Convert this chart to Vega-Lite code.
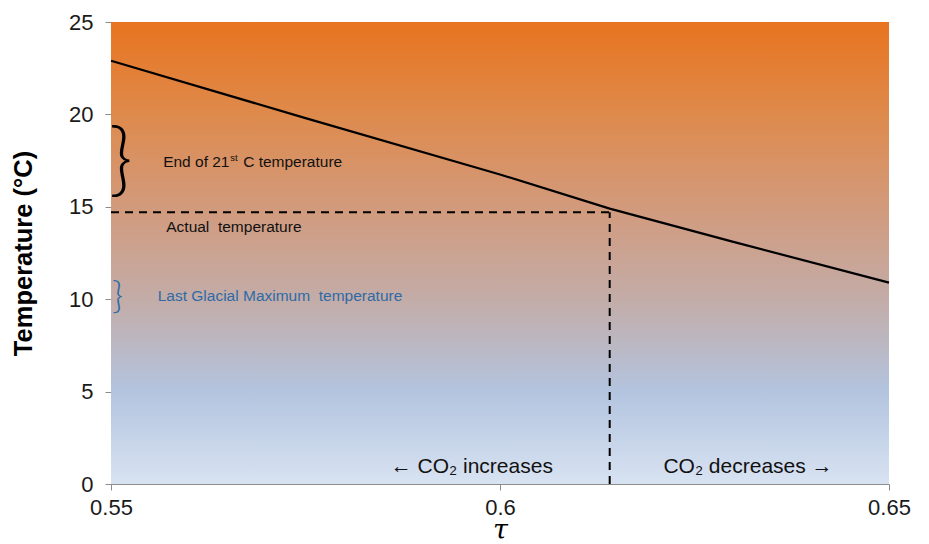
{
  "$schema": "https://vega.github.io/schema/vega-lite/v6.json",
  "width": 778,
  "height": 462,
  "autosize": {"type": "none"},
  "padding": {"left": 111, "top": 22, "right": 40, "bottom": 60},
  "background": "white",
  "config": {
    "view": {"stroke": null},
    "font": "Liberation Sans",
    "axis": {"grid": false, "domainColor": "#8c8c8c", "tickColor": "#8c8c8c", "tickSize": 6, "labelFont": "Liberation Sans", "labelFontSize": 22, "labelColor": "#1a1a1a"}
  },
  "datasets": {
    "bg": [{"t": 0.55, "t2": 0.65, "temp": 0, "temp2": 25}],
    "curve": [
      {"t": 0.55, "temp": 22.9},
      {"t": 0.575, "temp": 19.8},
      {"t": 0.6, "temp": 16.75},
      {"t": 0.6141, "temp": 14.9},
      {"t": 0.63, "temp": 13.1},
      {"t": 0.65, "temp": 10.9}
    ],
    "hdash": [{"t": 0.55, "t2": 0.6141, "temp": 14.7}],
    "vdash": [{"t": 0.6141, "temp": 0, "temp2": 14.7}]
  },
  "layer": [
    {
      "data": {"name": "bg"},
      "mark": {"type": "rect", "color": {"gradient": "linear", "x1": 0, "y1": 0, "x2": 0, "y2": 1, "stops": [
        {"offset": 0, "color": "#e8741f"},
        {"offset": 0.2, "color": "#de8a4c"},
        {"offset": 0.4, "color": "#d29a7c"},
        {"offset": 0.6, "color": "#c3aca8"},
        {"offset": 0.8, "color": "#b3c4df"},
        {"offset": 1, "color": "#d8e3f2"}
      ]}},
      "encoding": {
        "x": {"field": "t", "type": "quantitative", "scale": {"domain": [0.55, 0.65], "nice": false, "zero": false},
          "axis": {"values": [0.55, 0.6, 0.65], "format": "~g", "labelFlush": false, "labelPadding": 7, "title": "τ", "titleFont": "DejaVu Serif", "titleFontStyle": "italic", "titleFontWeight": "normal", "titleFontSize": 27, "titlePadding": -1}},
        "x2": {"field": "t2"},
        "y": {"field": "temp", "type": "quantitative", "scale": {"domain": [0, 25], "nice": false},
          "axis": {"values": [0, 5, 10, 15, 20, 25], "labelPadding": 12, "title": "Temperature (°C)", "titleFontSize": 25.5, "titleFontWeight": "bold", "titleColor": "#000", "titleX": -88, "titleY": 231, "titleAngle": -90, "titleBaseline": "middle"}},
        "y2": {"field": "temp2"}
      }
    },
    {
      "data": {"name": "curve"},
      "mark": {"type": "line", "color": "#000", "strokeWidth": 2.2},
      "encoding": {
        "x": {"field": "t", "type": "quantitative", "title": "τ"},
        "y": {"field": "temp", "type": "quantitative", "title": "Temperature (°C)"}
      }
    },
    {
      "data": {"name": "hdash"},
      "mark": {"type": "rule", "color": "#000", "strokeWidth": 2, "strokeDash": [8, 6]},
      "encoding": {
        "x": {"field": "t", "type": "quantitative", "title": "τ"},
        "x2": {"field": "t2"},
        "y": {"field": "temp", "type": "quantitative", "title": "Temperature (°C)"}
      }
    },
    {
      "data": {"name": "vdash"},
      "mark": {"type": "rule", "color": "#000", "strokeWidth": 2, "strokeDash": [8, 6]},
      "encoding": {
        "x": {"field": "t", "type": "quantitative", "title": "τ"},
        "y": {"field": "temp", "type": "quantitative", "title": "Temperature (°C)"},
        "y2": {"field": "temp2"}
      }
    },
    {
      "data": {"values": [{"t": 0.55, "temp": 17.42, "label": "}"}]},
      "mark": {"type": "text", "font": "Lato", "fontSize": 80, "fontWeight": 300, "align": "left", "baseline": "middle", "dx": -2, "color": "#000"},
      "encoding": {
        "x": {"field": "t", "type": "quantitative", "title": "τ"},
        "y": {"field": "temp", "type": "quantitative", "title": "Temperature (°C)"},
        "text": {"field": "label"}
      }
    },
    {
      "data": {"values": [{"t": 0.55, "temp": 10.1, "label": "}"}]},
      "mark": {"type": "text", "font": "Lato", "fontSize": 38, "fontWeight": 300, "align": "left", "baseline": "middle", "dx": 1, "color": "#2e6aa6"},
      "encoding": {
        "x": {"field": "t", "type": "quantitative", "title": "τ"},
        "y": {"field": "temp", "type": "quantitative", "title": "Temperature (°C)"},
        "text": {"field": "label"}
      }
    },
    {
      "data": {"values": [{"t": 0.5567, "temp": 17.4, "label": "End of 21"}, {"t": 0.5571, "temp": 13.9, "label": "Actual\u00a0 temperature"}]},
      "mark": {"type": "text", "fontSize": 15.5, "align": "left", "baseline": "middle", "color": "#111"},
      "encoding": {
        "x": {"field": "t", "type": "quantitative", "title": "τ"},
        "y": {"field": "temp", "type": "quantitative", "title": "Temperature (°C)"},
        "text": {"field": "label"}
      }
    },
    {
      "data": {"values": [{"t": 0.5567, "temp": 17.4, "label": "st"}]},
      "mark": {"type": "text", "fontSize": 9.5, "align": "left", "baseline": "middle", "dx": 67, "dy": -4, "color": "#111"},
      "encoding": {
        "x": {"field": "t", "type": "quantitative", "title": "τ"},
        "y": {"field": "temp", "type": "quantitative", "title": "Temperature (°C)"},
        "text": {"field": "label"}
      }
    },
    {
      "data": {"values": [{"t": 0.5567, "temp": 17.4, "label": "C temperature"}]},
      "mark": {"type": "text", "fontSize": 15.5, "align": "left", "baseline": "middle", "dx": 80, "color": "#111"},
      "encoding": {
        "x": {"field": "t", "type": "quantitative", "title": "τ"},
        "y": {"field": "temp", "type": "quantitative", "title": "Temperature (°C)"},
        "text": {"field": "label"}
      }
    },
    {
      "data": {"values": [{"t": 0.556, "temp": 10.15, "label": "Last Glacial Maximum\u00a0 temperature"}]},
      "mark": {"type": "text", "fontSize": 15.5, "align": "left", "baseline": "middle", "color": "#2e6aa6"},
      "encoding": {
        "x": {"field": "t", "type": "quantitative", "title": "τ"},
        "y": {"field": "temp", "type": "quantitative", "title": "Temperature (°C)"},
        "text": {"field": "label"}
      }
    },
    {
      "data": {"values": [{"t": 0.6068, "temp": 0.9, "label": "← CO₂ increases"}]},
      "mark": {"type": "text", "fontSize": 21, "align": "right", "baseline": "middle", "color": "#111"},
      "encoding": {
        "x": {"field": "t", "type": "quantitative", "title": "τ"},
        "y": {"field": "temp", "type": "quantitative", "title": "Temperature (°C)"},
        "text": {"field": "label"}
      }
    },
    {
      "data": {"values": [{"t": 0.621, "temp": 0.9, "label": "CO₂ decreases →"}]},
      "mark": {"type": "text", "fontSize": 21, "align": "left", "baseline": "middle", "color": "#111"},
      "encoding": {
        "x": {"field": "t", "type": "quantitative", "title": "τ"},
        "y": {"field": "temp", "type": "quantitative", "title": "Temperature (°C)"},
        "text": {"field": "label"}
      }
    }
  ]
}
